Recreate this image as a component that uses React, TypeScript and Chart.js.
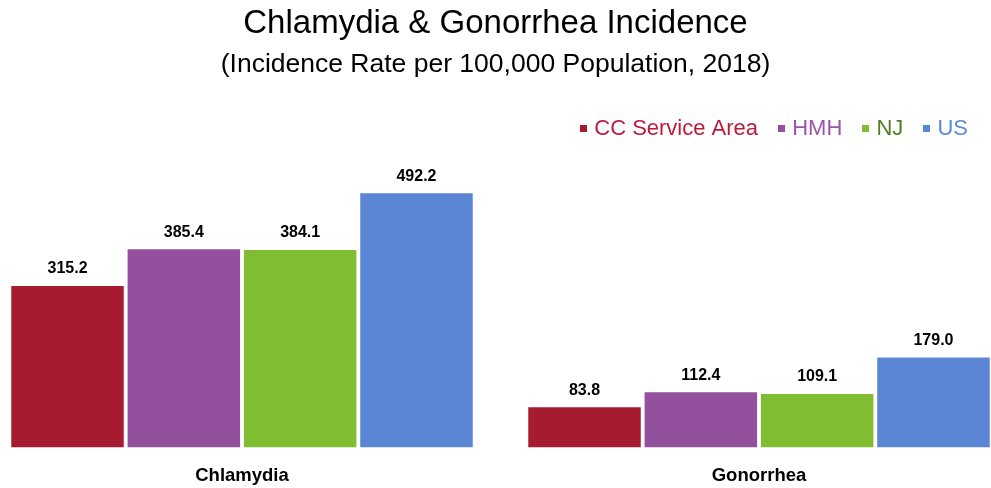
import React, { useEffect, useRef } from 'react';
import { Chart, registerables } from 'chart.js';

Chart.register(...registerables);

const categories = ['Chlamydia', 'Gonorrhea'];
const seriesNames = ['CC Service Area', 'HMH', 'NJ', 'US'];
const ccValues = [315.2, 83.8];
const hmhValues = [385.4, 112.4];
const njValues = [384.1, 109.1];
const usValues = [492.2, 179.0];
const barColors = ['#A71B31', '#93509D', '#80BD33', '#5B86D6'];
const legendTextColors = ['#BC1A3C', '#9B54AB', '#4F7F1F', '#5B8ADB'];
const titleText = 'Chlamydia & Gonorrhea Incidence';
const subtitleText = '(Incidence Rate per 100,000 Population, 2018)';

const SANS = "'Liberation Sans', Arial, sans-serif";

const valueLabels = {
  id: 'valueLabels',
  afterDatasetsDraw(chart: any) {
    const ctx = chart.ctx;
    ctx.save();
    ctx.font = `bold 16px ${SANS}`;
    ctx.fillStyle = '#000';
    ctx.textAlign = 'center';
    ctx.textBaseline = 'alphabetic';
    chart.data.datasets.forEach((ds: any, di: number) => {
      const meta = chart.getDatasetMeta(di);
      meta.data.forEach((el: any, i: number) => {
        const v = ds.data[i];
        ctx.fillText(Number(v).toFixed(1), el.x, el.y - 12.7);
      });
    });
    ctx.restore();
  },
};

export default function App() {
  const ref = useRef<HTMLCanvasElement>(null);

  useEffect(() => {
    const makeBox = (c: string) => {
      const cv = document.createElement('canvas');
      cv.width = 7;
      cv.height = 7;
      const g = cv.getContext('2d')!;
      g.fillStyle = c;
      g.fillRect(0, 0, 7, 7);
      return cv;
    };
    const boxes = barColors.map(makeBox);
    const seriesValues = [ccValues, hmhValues, njValues, usValues];

    const chart = new Chart(ref.current!, {
      type: 'bar',
      data: {
        labels: categories,
        datasets: seriesNames.map((name, i) => ({
          label: name,
          data: seriesValues[i],
          backgroundColor: barColors[i],
          borderWidth: 0,
          categoryPercentage: 0.9,
          barPercentage: 0.967,
          clip: { left: false, right: false, top: false, bottom: 0 } as any,
        })),
      },
      options: {
        animation: false,
        responsive: false,
        layout: { padding: 0 },
        plugins: {
          title: {
            display: true,
            text: titleText,
            color: '#000',
            font: { family: SANS, size: 33, weight: 'normal', lineHeight: 1.2 },
            padding: { top: 4, bottom: 0 },
          },
          subtitle: {
            display: true,
            text: subtitleText,
            color: '#000',
            font: { family: SANS, size: 26.5, weight: 'normal', lineHeight: 1.2 },
            padding: { top: 4.7, bottom: 14.6 },
          },
          legend: {
            display: true,
            position: 'top',
            align: 'end',
            labels: {
              usePointStyle: true,
              boxWidth: 0.125,
              padding: 23,
              font: { family: SANS, size: 22 },
              generateLabels: (c: any) =>
                c.data.datasets.map((ds: any, i: number) => ({
                  text: ds.label,
                  fillStyle: barColors[i],
                  strokeStyle: barColors[i],
                  lineWidth: 0,
                  pointStyle: boxes[i],
                  fontColor: legendTextColors[i],
                  hidden: !c.isDatasetVisible(i),
                  datasetIndex: i,
                })),
            },
          },
          tooltip: { enabled: false },
        },
        scales: {
          x: {
            type: 'category',
            offset: false,
            grid: { display: false, drawTicks: false },
            border: { display: false },
            ticks: {
              color: '#000',
              padding: 17.5,
              autoSkip: false,
              maxRotation: 0,
              font: { family: SANS, size: 18.5, weight: 'bold', lineHeight: 1.15 },
            },
            afterFit: (s: any) => {
              s.height = 40.7;
            },
          },
          y: {
            type: 'linear',
            position: 'left',
            min: 7.44,
            max: 575.5,
            beginAtZero: false,
            grid: { display: false, drawTicks: false },
            border: { display: false },
            ticks: { display: false },
            afterFit: (s: any) => {
              s.width = 242;
            },
          },
          yRight: {
            type: 'linear',
            position: 'right',
            grid: { display: false, drawTicks: false },
            border: { display: false },
            ticks: { display: false },
            afterFit: (s: any) => {
              s.width = 232;
            },
          },
        },
      } as any,
      plugins: [valueLabels],
    });
    return () => chart.destroy();
  }, []);

  return (
    <div style={{ position: 'fixed', left: 0, top: 0, width: '991px', height: '488px', background: '#fff' }}>
      <canvas ref={ref} width={991} height={488} style={{ display: 'block' }} />
    </div>
  );
}
